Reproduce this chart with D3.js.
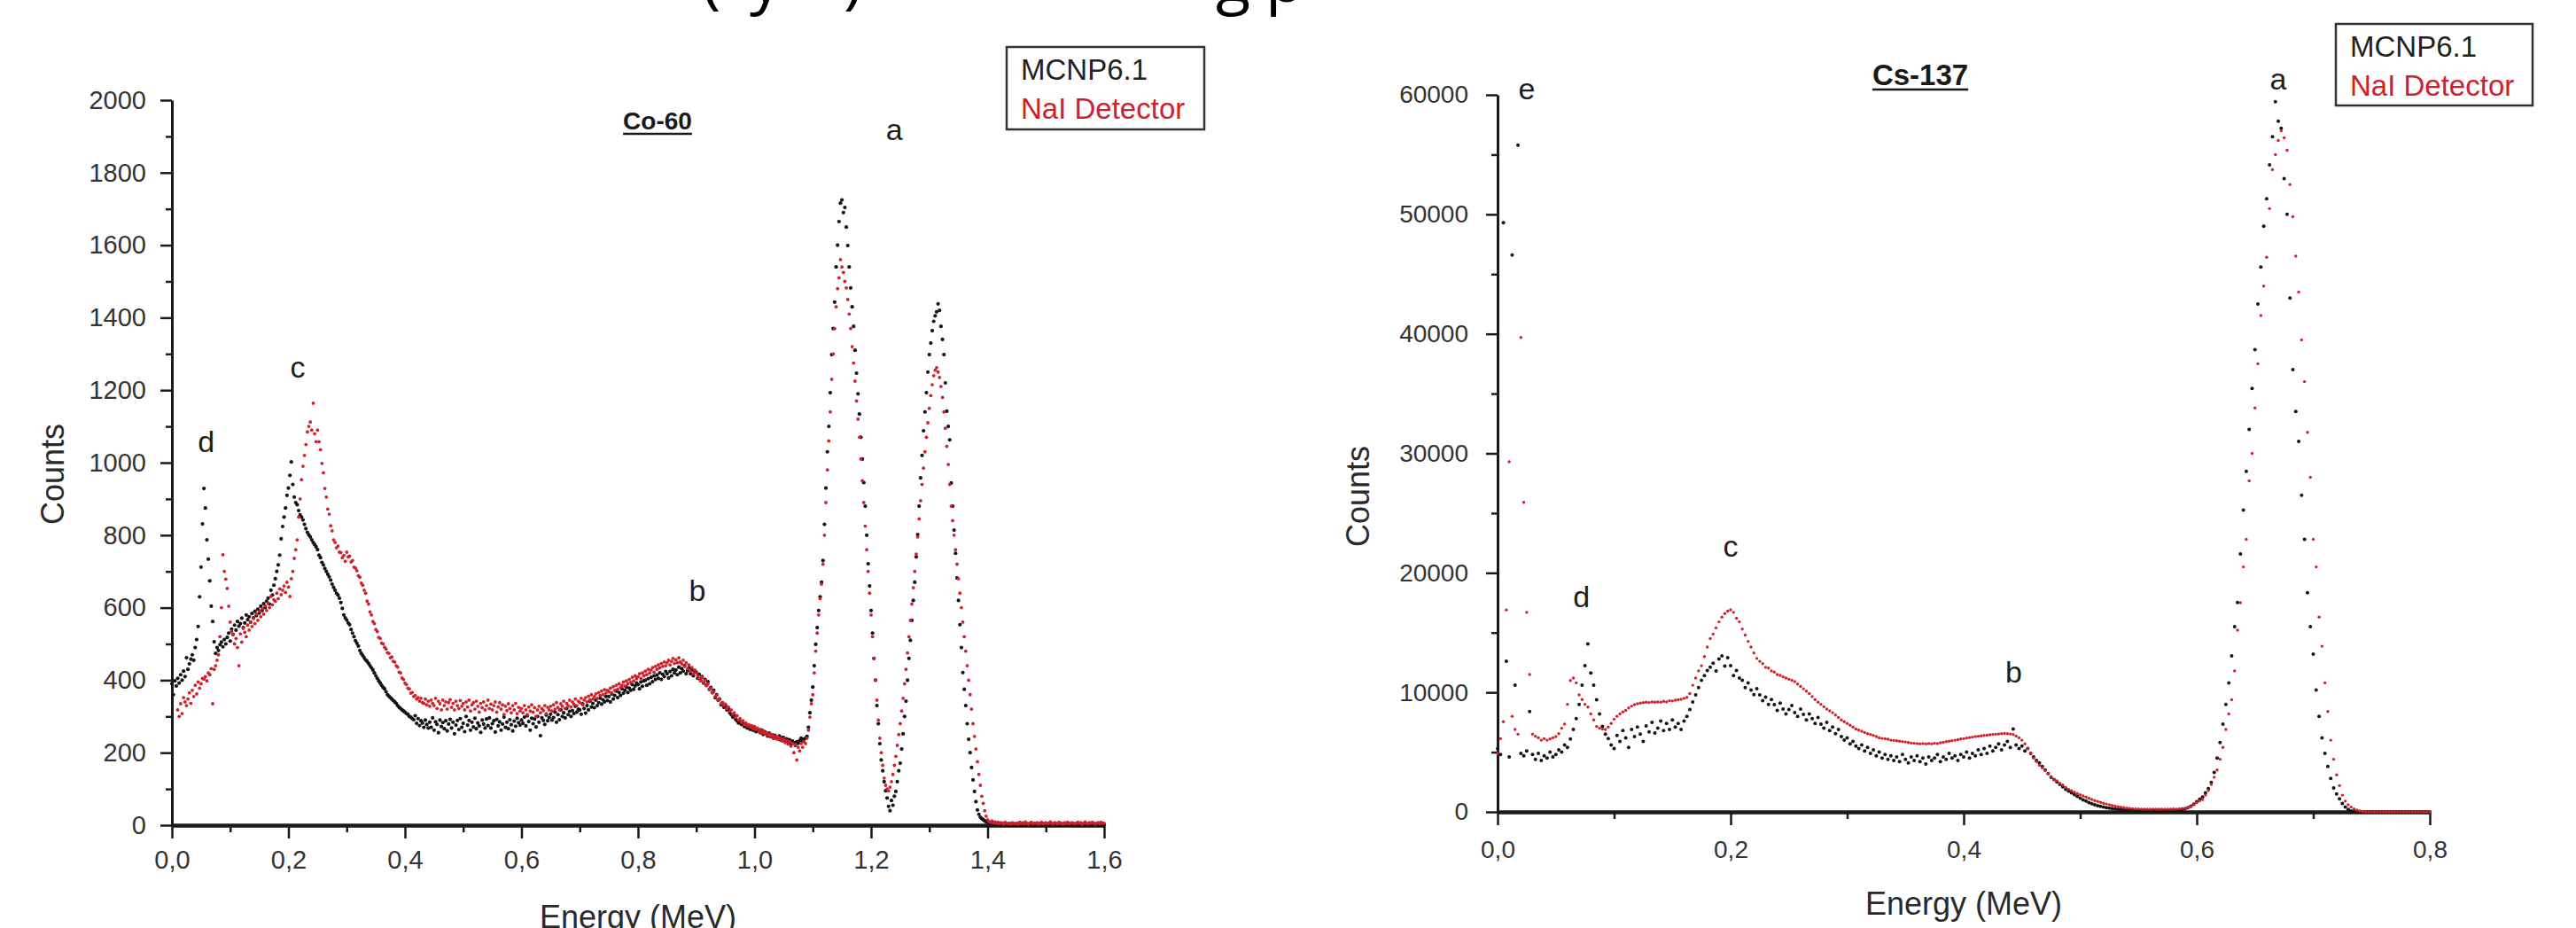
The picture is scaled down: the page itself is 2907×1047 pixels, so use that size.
<!DOCTYPE html>
<html><head><meta charset="utf-8">
<script src="https://cdn.jsdelivr.net/npm/d3@7"></script>
<style>
body{margin:0;background:#fff}
svg{display:block}
text{font-family:"Liberation Sans",Arial,Helvetica,sans-serif}
</style>
</head><body>
<svg id="chart" width="2907" height="1047"></svg>
<script>
// ---------------- DATA ----------------
const coStep = 0.0025; // MeV per channel (Co-60 panel)
const coMCNP = [
390,360,398,384,405,392,415,400,425,410,462,430,445,458,470,455,490,512,548,630,
712,831,929,875,787,734,674,604,562,506,474,490,482,498,505,492,512,500,518,530,
508,541,526,552,538,562,549,556,571,545,558,580,567,575,560,584,572,590,578,596,
585,604,592,611,600,618,626,610,648,635,662,680,700,718,745,790,824,850,875,910,
930,965,1002,940,905,890,884,868,856,850,842,830,818,808,801,795,787,780,774,768,
760,745,738,725,718,708,700,692,685,676,665,656,648,640,635,626,614,598,580,572,
566,558,553,540,530,520,509,502,494,482,474,468,462,456,452,446,440,434,428,420,
412,405,398,392,386,380,376,368,360,356,352,348,344,340,336,330,325,322,318,315,
312,308,306,300,298,294,291,302,281,294,275,288,282,270,290,278,268,284,270,296,
262,285,278,255,290,272,283,266,288,260,279,292,268,284,252,276,289,264,294,270,
281,258,300,276,289,262,284,271,295,266,282,274,256,290,279,268,293,275,296,268,
280,288,257,292,274,285,262,279,298,270,284,266,291,277,260,287,273,295,283,276,
290,281,298,274,302,286,262,295,280,293,271,300,284,247,296,289,278,304,288,297,
306,290,297,312,284,305,291,318,300,310,296,322,305,314,300,316,308,328,312,320,
318,306,335,322,309,330,318,342,326,336,324,345,330,338,350,334,346,340,355,344,
355,340,362,348,358,370,352,366,358,376,364,372,381,366,378,372,388,375,384,392,
388,376,395,383,398,400,386,404,390,408,396,412,402,414,405,420,402,416,410,424,
418,406,424,412,430,420,428,415,436,420,432,425,440,418,426,434,418,428,412,424,
422,405,416,400,410,392,402,386,396,375,380,366,372,352,360,345,348,332,338,325,
330,318,322,310,305,298,302,292,288,282,286,278,280,272,276,268,272,264,270,262,
268,258,264,260,255,262,250,258,252,246,254,244,250,240,248,242,238,246,235,242,
241,232,238,228,236,224,232,228,220,230,226,234,240,232,237,240,245,270,310,345,
381,440,499,545,592,630,670,730,830,930,1030,1100,1193,1298,1370,1443,1540,1600,1665,1716,
1725,1690,1704,1650,1599,1540,1482,1430,1376,1310,1247,1190,1134,1070,1010,945,880,800,721,660,
592,530,460,400,330,280,225,180,150,120,95,75,52,40,68,55,80,93,120,150,
171,210,252,300,342,400,460,510,565,620,670,740,802,880,958,1020,1088,1140,1193,1250,
1298,1330,1364,1390,1405,1416,1438,1420,1376,1340,1298,1220,1142,1100,1063,944,880,814,750,682,
620,553,490,421,375,330,280,237,200,159,125,93,65,42,30,22,18,15,12,10,
8,6,4,5,3,4,2,5,3,2,4,3,1,2,3,4,2,1,3,2,
1,3,2,4,1,2,3,1,2,4,2,1,3,2,1,2,3,1,2,1,
2,3,1,2,4,2,1,3,2,1,2,3,1,4,2,1,2,3,1,2,
3,1,2,2,4,1,3,2,1,2,3,2,1,3,2,4,1,2,3,2,
2];
const coNaI = [
null,null,null,null,318,300,335,308,352,340,330,348,365,336,372,355,386,362,395,378,
390,405,403,410,398,420,415,432,335,430,440,455,470,520,600,746,700,679,653,604,
560,535,527,500,515,490,440,528,505,543,532,520,552,538,560,548,570,556,582,565,
590,575,597,582,605,592,612,600,631,608,622,618,640,625,652,636,648,660,642,670,
657,631,680,700,736,760,787,850,900,953,990,1020,1050,1085,1100,1112,1090,1164,1080,1058,
1090,1058,1036,998,972,929,905,872,858,826,812,787,780,765,770,753,752,738,744,728,
753,740,742,726,730,712,709,702,688,684,668,662,648,640,618,610,588,580,562,556,
540,534,518,515,502,500,491,486,476,474,462,464,452,450,440,436,422,420,406,402,
392,388,378,376,364,366,355,358,348,352,342,350,338,336,348,332,342,328,345,336,
330,350,322,342,335,318,345,330,340,320,338,346,325,336,318,342,330,322,344,328,
336,318,340,326,345,315,332,338,320,342,328,312,336,324,340,318,330,345,322,334,
318,330,340,312,326,338,320,332,305,328,316,335,322,310,330,318,336,308,325,315,
322,310,330,318,305,326,315,332,312,324,300,318,328,310,322,316,330,308,325,318,
328,315,332,320,338,325,318,335,328,342,322,336,330,345,326,340,334,348,330,342,
338,350,332,345,352,340,356,346,360,348,355,362,350,366,358,370,360,374,364,372,
368,378,365,382,372,386,375,390,380,386,395,384,398,390,402,394,408,398,412,404,
410,418,405,420,412,425,415,430,420,428,435,422,438,430,442,434,446,438,450,440,
448,455,442,452,460,446,456,448,462,450,445,455,438,448,432,442,425,435,418,428,
420,412,405,398,408,392,400,385,390,375,378,365,368,355,358,345,348,335,338,330,
334,322,326,315,318,306,310,298,302,290,294,284,288,278,282,274,278,270,275,266,
272,264,268,258,264,255,260,252,256,248,252,245,250,242,246,238,244,236,240,232,
238,228,234,224,230,218,226,200,222,180,215,205,225,215,230,225,240,262,298,335,
360,420,480,530,580,625,665,720,800,890,980,1060,1140,1230,1300,1370,1430,1480,1510,1560,
1540,1525,1500,1482,1450,1410,1370,1320,1275,1225,1170,1120,1070,1010,950,890,825,760,700,640,
580,520,460,400,345,290,240,200,165,130,110,100,95,105,120,140,165,190,220,250,
280,315,350,390,430,475,520,565,610,655,700,748,795,845,895,940,985,1030,1070,1110,
1150,1185,1215,1240,1255,1262,1250,1235,1210,1180,1140,1095,1045,995,940,880,840,800,760,720,
680,640,600,560,520,480,440,400,360,320,280,245,210,175,140,110,80,60,40,25,
15,10,8,12,6,9,5,8,4,7,6,3,8,5,4,6,3,7,5,4,
6,3,8,5,7,4,9,5,3,6,8,4,6,5,7,3,6,8,4,5,
7,4,6,9,5,3,7,6,4,8,5,6,3,7,5,8,4,6,7,5,
4,6,8,5,7,3,6,9,5,4,7,6,8,5,3,6,7,4,8,6,
5];

const csStep = 0.0025; // MeV per channel (Cs-137 panel)
const csMCNP = [
5300,4800,49300,12600,4600,46600,10600,55800,4900,4700,5100,8400,4800,4400,4900,4300,4700,4500,5000,4600,
4800,5200,5000,5600,5400,6100,6900,7800,9000,10600,12230,14060,11620,10600,9380,8200,7150,6500,6130,5600,
5310,6400,5900,6800,6200,5400,6900,6300,7100,6500,5900,7200,6700,7500,6600,7000,7600,6800,7400,6900,
7700,7100,7400,6900,7600,8000,8570,9200,9790,10400,11010,11400,11830,12100,12440,11800,12800,13050,12200,12900,
12230,11400,11830,11200,11010,10400,10800,10200,9800,10300,9790,9300,9600,9000,9400,8980,8500,9100,8600,8200,
8570,8900,8300,8000,8600,8160,7700,8200,7800,7400,7900,7350,7000,7500,6800,7100,6540,6900,6300,6000,
6200,5700,5900,5500,5300,5600,5100,5400,4900,5200,4700,5000,4500,4800,4400,4700,4300,4600,4200,4800,
4400,4100,4600,4300,4700,4200,4500,4000,4600,4300,4500,4800,4200,4600,4400,4900,4500,4700,4300,4800,
4600,5000,4500,4900,4700,5200,4800,5300,4900,5500,5100,5400,5700,5200,5600,5900,5400,6940,5600,5300,
5500,5100,5300,4900,4600,4300,4100,3800,3500,3200,2900,2700,2500,2300,2100,1900,1750,1600,1450,1300,
1150,1000,900,780,680,600,520,460,400,350,320,280,250,230,200,190,170,160,150,140,
130,110,150,100,120,90,140,110,80,130,100,150,120,170,140,200,260,350,480,650,
850,1050,1240,1600,1950,2460,3300,4500,5800,7350,9000,10800,13050,15500,17520,21590,25250,28500,32000,35430,
38680,42500,45600,49000,51300,54140,56500,59430,57800,57200,53000,50000,43000,37000,33500,31000,26500,22800,18330,15500,
13200,10200,8000,6200,4900,3800,2800,2000,1500,1100,700,400,200,80,20,0,0,0,0,0,
0,0,0,0,0,0,0,0,0,0,0,0,0,0,0,0,0,0,0,0,
0];
const csNaI = [
4900,6130,7550,16900,29300,8000,6900,6500,39700,25900,16700,11500,6500,6330,6200,6000,6130,6000,6100,6200,
6300,6540,7000,7350,9000,11000,11200,10800,9790,9400,9000,8770,8200,7700,7150,7000,6940,6900,7100,7400,
7760,8000,8200,8370,8500,8700,8850,8980,9050,9100,9150,9180,9150,9200,9180,9200,9180,9250,9200,9300,
9280,9350,9380,9420,9500,9590,9900,10600,11200,11800,12230,13000,13800,14500,14880,15400,15900,16300,16600,16800,
16910,16700,16200,15900,15300,14800,14270,13800,13300,12840,12600,12400,12100,12030,11800,11700,11500,11420,11300,11200,
11100,11010,10900,10700,10500,10300,10100,9900,9650,9400,9180,9000,8800,8600,8450,8300,8100,7900,7700,7550,
7400,7250,7100,6940,6850,6750,6650,6540,6480,6400,6300,6200,6150,6130,6080,6000,5980,5950,5920,5880,
5850,5800,5760,5740,5720,5700,5720,5690,5720,5700,5740,5720,5780,5820,5880,5920,5960,6000,6050,6100,
6130,6180,6220,6260,6300,6330,6360,6400,6420,6450,6480,6500,6520,6540,6560,6540,6520,6480,6350,6200,
6000,5700,5300,4910,4500,4200,3900,3690,3450,3200,2950,2700,2600,2400,2250,2050,1900,1780,1650,1540,
1440,1340,1240,1140,1040,950,870,800,720,660,600,540,480,430,390,350,320,290,270,250,
240,230,225,230,220,235,228,222,230,225,232,228,240,235,260,280,300,360,450,600,
780,920,1040,1400,1800,2300,2900,3500,4400,5400,6900,8200,9380,11800,15200,17500,20500,22810,27700,30000,
33800,37500,41530,44000,46410,50480,53740,55000,56180,56990,56400,55360,52500,49800,46500,43500,39500,36000,31760,28000,
22810,20500,16300,13860,10800,8400,6000,4400,3100,2200,1400,900,600,400,250,150,80,40,0,0,
0,0,0,0,0,0,0,0,0,0,0,0,0,0,0,0,0,0,0,0,
0];

const coYTicks = [0,200,400,600,800,1000,1200,1400,1600,1800,2000];
const coYMinor = [100,300,500,700,900,1100,1300,1500,1700,1900];
const coXTicks = [0,0.2,0.4,0.6,0.8,1.0,1.2,1.4,1.6];
const coXMinor = [0.1,0.3,0.5,0.7,0.9,1.1,1.3,1.5];
const csYTicks = [0,10000,20000,30000,40000,50000,60000];
const csYMinor = [5000,15000,25000,35000,45000,55000];
const csXTicks = [0,0.2,0.4,0.6,0.8];
const csXMinor = [0.1,0.3,0.5,0.7];

const seriesNames = ["MCNP6.1","NaI Detector"];
const coTitle = "Co-60";
const csTitle = "Cs-137";
const xLabel = "Energy (MeV)";
const yLabel = "Counts";
// peak annotations: [letter, energy, counts]
const coMarks = [["d",0.059,1029],["c",0.216,1235],["b",0.902,619],["a",1.24,1890]];
const csMarks = [["e",0.025,59640],["d",0.072,17140],["c",0.2,21360],["b",0.443,10830],["a",0.67,60460]];
// clipped caption fragments at the very top of the figure: [text, x]
const captionParts = [["(",792],["y",846],[")",952],["g",1372],["p",1428]];

// ---------------- DRAWING ----------------
const svg = d3.select("#chart");
svg.append("rect").attr("width",2907).attr("height",1047).attr("fill","#fff");

const BLACK = "#141414", RED = "#d0202a", AXIS = "#1a1a1a", TXT = "#333";
const fmtE = v => d3.format(".1f")(v).replace(".", ",");
const fmtC = d3.format("d");

const cap = svg.append("text").attr("y",2).attr("font-size",72).attr("fill","#000")
  .style("font-family","'Open Sans','Noto Sans',sans-serif");
captionParts.forEach(([t,x])=>{ cap.append("tspan").attr("x",x).text(t); });

function panel(cfg){
  const g = svg.append("g");
  const x = d3.scaleLinear().domain(cfg.xDomain).range(cfg.xRange);
  const y = d3.scaleLinear().domain(cfg.yDomain).range(cfg.yRange);
  const x0 = cfg.xRange[0], y0 = cfg.yRange[0];

  g.append("g").attr("transform",`translate(${x0},0)`)
    .call(d3.axisLeft(y).tickValues(cfg.yMinor).tickSize(7).tickSizeOuter(0).tickFormat(""))
    .call(s=>{s.select(".domain").remove(); s.selectAll("line").attr("stroke",AXIS).attr("stroke-width",2.5);});
  g.append("g").attr("transform",`translate(${x0},0)`)
    .call(d3.axisLeft(y).tickValues(cfg.yTicks).tickSize(13).tickSizeOuter(0).tickPadding(cfg.yPad).tickFormat(fmtC))
    .call(s=>{
      s.select(".domain").attr("stroke",AXIS).attr("stroke-width",3);
      s.selectAll("line").attr("stroke",AXIS).attr("stroke-width",2.5);
      s.selectAll("text").attr("fill",TXT).attr("font-size",cfg.tickFont)
        .style("font-family","'Liberation Sans',Arial,sans-serif");
    });
  g.append("g").attr("transform",`translate(0,${y0})`)
    .call(d3.axisBottom(x).tickValues(cfg.xMinor).tickSize(8).tickSizeOuter(0).tickFormat(""))
    .call(s=>{s.select(".domain").remove(); s.selectAll("line").attr("stroke",AXIS).attr("stroke-width",2.5);});
  g.append("g").attr("transform",`translate(0,${y0})`)
    .call(d3.axisBottom(x).tickValues(cfg.xTicks).tickSize(15).tickSizeOuter(0).tickPadding(cfg.xPad).tickFormat(fmtE))
    .call(s=>{
      s.select(".domain").attr("stroke",AXIS).attr("stroke-width",4.5);
      s.selectAll("line").attr("stroke",AXIS).attr("stroke-width",2.5);
      s.selectAll("text").attr("fill",TXT).attr("font-size",cfg.tickFont)
        .style("font-family","'Liberation Sans',Arial,sans-serif");
    });

  const pts = (arr, step) => arr.map((c,i)=>({e:i*step, c})).filter(d=>d.c!==null);
  g.append("g").selectAll("circle").data(pts(cfg.black, cfg.step)).join("circle")
    .attr("cx",d=>x(d.e)).attr("cy",d=>y(d.c)).attr("r",cfg.rBlack).attr("fill",BLACK);
  g.append("g").selectAll("circle").data(pts(cfg.red, cfg.step)).join("circle")
    .attr("cx",d=>x(d.e)).attr("cy",d=>y(d.c)).attr("r",cfg.rRed).attr("fill",RED);

  g.append("text").attr("x",(cfg.xRange[0]+cfg.xRange[1])/2).attr("y",cfg.xLabelY)
    .attr("text-anchor","middle").attr("font-size",36).attr("fill","#2a2a2a").text(xLabel);
  g.append("text").attr("transform",`translate(${cfg.yLabelX},${cfg.yLabelY}) rotate(-90)`)
    .attr("text-anchor","middle").attr("font-size",36).attr("fill","#2a2a2a").text(yLabel);

  const t = g.append("text").attr("x",cfg.titleX).attr("y",cfg.titleY).attr("text-anchor","middle")
    .attr("font-size",cfg.titleFont).attr("font-weight","bold").attr("fill","#1a1a1a").text(cfg.title);
  const bb = t.node().getBBox();
  g.append("line").attr("x1",bb.x).attr("x2",bb.x+bb.width)
    .attr("y1",cfg.titleY+5).attr("y2",cfg.titleY+5).attr("stroke","#1a1a1a").attr("stroke-width",2.5);

  g.append("g").selectAll("text").data(cfg.marks).join("text")
    .attr("x",d=>x(d[1])).attr("y",d=>y(d[2])).attr("text-anchor","middle")
    .attr("font-size",34).attr("fill","#1e1e1e").text(d=>d[0]);

  const L = cfg.legend;
  g.append("rect").attr("x",L.x).attr("y",L.y).attr("width",L.w).attr("height",L.h)
    .attr("fill","#fff").attr("stroke","#333").attr("stroke-width",2.5);
  g.append("text").attr("x",L.x+16).attr("y",L.y+37).attr("font-size",33).attr("fill","#222").text(seriesNames[0]);
  g.append("text").attr("x",L.x+16).attr("y",L.y+81).attr("font-size",33).attr("fill",RED).text(seriesNames[1]);
}

panel({
  xDomain:[0,1.6], xRange:[194,1246], yDomain:[0,2000], yRange:[931,113],
  yTicks:coYTicks, yMinor:coYMinor, xTicks:coXTicks, xMinor:coXMinor,
  yPad:16, xPad:13, tickFont:29,
  black:coMCNP, red:coNaI, step:coStep, rBlack:2.1, rRed:1.9,
  xLabelY:1047, yLabelX:72, yLabelY:535,
  title:coTitle, titleX:742, titleY:146, titleFont:28,
  marks:coMarks,
  legend:{x:1136,y:53,w:223,h:93}
});
panel({
  xDomain:[0,0.8], xRange:[1690,2742], yDomain:[0,60000], yRange:[916,107],
  yTicks:csYTicks, yMinor:csYMinor, xTicks:csXTicks, xMinor:csXMinor,
  yPad:20, xPad:17, tickFont:28,
  black:csMCNP, red:csNaI, step:csStep, rBlack:2.0, rRed:1.7,
  xLabelY:1032, yLabelX:1545, yLabelY:560,
  title:csTitle, titleX:2167, titleY:96, titleFont:33,
  marks:csMarks,
  legend:{x:2636,y:27,w:222,h:92}
});
</script>
</body></html>
